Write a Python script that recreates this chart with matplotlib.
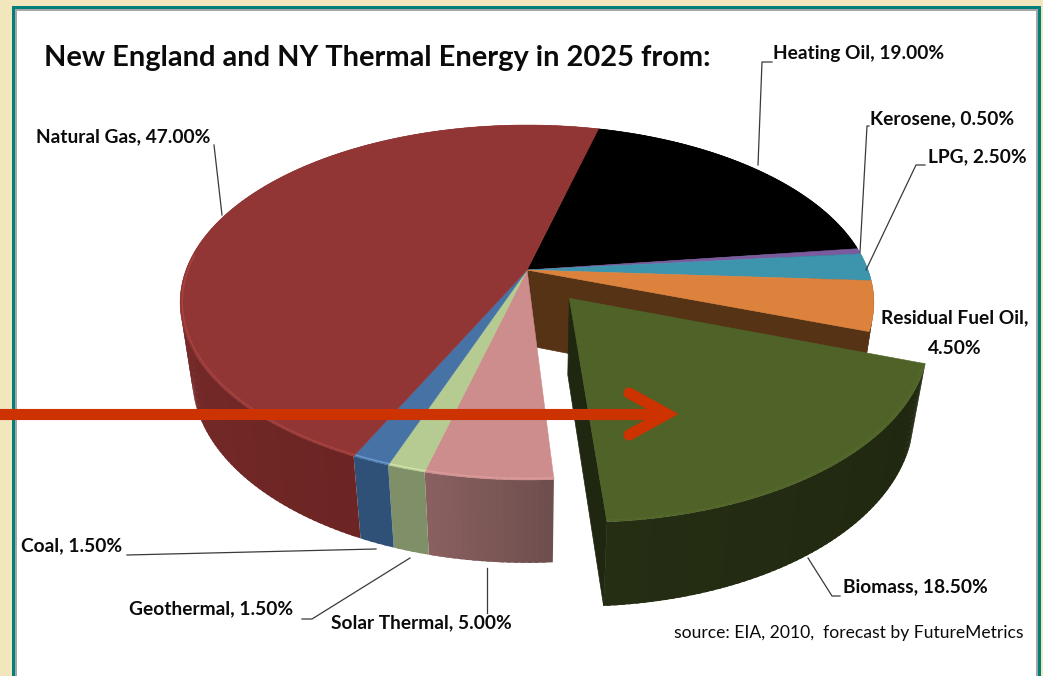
"""New England and NY thermal energy in 2025: perspective 3D pie, one slice pulled out."""

import matplotlib

matplotlib.use("Agg")
import matplotlib.pyplot as plt
import numpy as np
from matplotlib.collections import PolyCollection
from matplotlib.patches import Polygon, Rectangle

# clockwise from the back of the pie
names = ["Heating Oil", "Kerosene", "LPG", "Residual Fuel Oil", "Biomass",
         "Solar Thermal", "Geothermal", "Coal", "Natural Gas"]
values = [19.0, 0.5, 2.5, 4.5, 18.5, 5.0, 1.5, 1.5, 47.0]
top_colors = ["#000000", "#7A5C9E", "#3C94AD", "#DC823C", "#4F6228",
              "#CE8D8D", "#B5CB91", "#4672A6", "#923635"]
# side colours at the start and at the end of each slice's angle range
side_colors = [("#000000", "#000000"), ("#4a3860", "#4a3860"), ("#245a69", "#245a69"),
               ("#573316", "#573316"), ("#1f2710", "#252d13"), ("#6E4E4D", "#8A6060"),
               ("#7F8F68", "#7F8F68"), ("#2F5077", "#2F5077"), ("#6c2524", "#8a3533")]
rim_colors = [None, None, None, None, "#566a2d", "#DB9C9A", "#D3E4A8", "#6C9BD0", "#A8443F"]

title = "New England and NY Thermal Energy in 2025 from:"
source = "source: EIA, 2010,  forecast by FutureMetrics"

# pie geometry in pixels
CX, CY = 527, 270
A, B, K = 341, 171.5, 0.183  # radii and perspective strength
DEPTH, SHRINK = 78, 0.035
START = 14.3  # degrees clockwise from north
EXPLODE = 0.2
PULLED = "Biomass"


def project(u, v, bottom=False):
    u, v = np.asarray(u, float), np.asarray(v, float)
    w = 1 + K * v + (SHRINK if bottom else 0)
    return CX + A * u / w, CY + (-B * v + (DEPTH if bottom else 0)) / w


def rim(a0, a1, off=(0, 0), r=1.0, n=120):
    t = np.radians(np.linspace(a0, a1, n))
    return r * np.sin(t) + off[0], r * np.cos(t) + off[1]


def face(u, v, bottom=False):
    return np.column_stack(project(u, v, bottom))


def blend(c0, c1, f):
    c0, c1 = np.array(matplotlib.colors.to_rgb(c0)), np.array(matplotlib.colors.to_rgb(c1))
    return c0 + (c1 - c0) * f


def draw_side(ax, a0, a1, off, cols, z):
    # overlapping quads so the wall carries a gradient without seams
    edges = np.linspace(a0, a1, max(int(a1 - a0), 2) + 1)
    quads, fills = [], []
    for i in range(len(edges) - 1):
        stop = min(edges[i + 1] + 0.6, a1)
        u, v = rim(edges[i], stop, off, n=3)
        quads.append(np.vstack([face(u, v), face(u[::-1], v[::-1], True)]))
        fills.append(blend(cols[0], cols[1], (i + 0.5) / (len(edges) - 1)))
    ax.add_collection(PolyCollection(quads, facecolors=fills, edgecolors="none",
                                     linewidths=0, zorder=z))


fig = plt.figure(figsize=(10.43, 6.76), dpi=100, facecolor="#F2E7BC")
ax = fig.add_axes([0, 0, 1, 1])
ax.set_xlim(0, 1043)
ax.set_ylim(676, 0)
ax.axis("off")

# panel frame
ax.add_patch(Rectangle((12, 6), 1029, 680, fc="#00807A", ec="none", zorder=0))
ax.add_patch(Rectangle((15, 9), 1023, 680, fc="#A6A6A6", ec="none", zorder=0.1))
ax.add_patch(Rectangle((17, 11), 1019, 680, fc="white", ec="none", zorder=0.2))

angles = START + np.concatenate([[0], np.cumsum(values)]) * 3.6
idx = names.index("Residual Fuel Oil")

# slices still in the pie
for i, name in enumerate(names):
    if name == PULLED:
        continue
    draw_side(ax, angles[i], angles[i + 1], (0, 0), side_colors[i], 2)

# inner wall left open by the pulled slice
end = angles[idx + 1]
u, v = rim(end, end, n=1)
wall = np.vstack([face([0, u[0]], [0, v[0]]), face([u[0], 0], [v[0], 0], True)])
ax.add_patch(Polygon(wall, fc="#573316", ec="#573316", lw=0.5, zorder=2.5))

for i, name in enumerate(names):
    if name == PULLED:
        continue
    a0, a1 = angles[i], angles[i + 1]
    u, v = rim(a0, a1)
    pts = np.vstack([project(0, 0), face(u, v)])
    ax.add_patch(Polygon(pts, fc=top_colors[i], ec=top_colors[i], lw=0.4, zorder=3))
    if rim_colors[i]:
        u, v = rim(a0, min(a1, 275), r=0.994)
        ax.plot(*project(u, v), color=rim_colors[i], lw=1.0, zorder=3.5)

# the pulled slice
i = names.index(PULLED)
a0, a1 = angles[i], angles[i + 1]
mid = np.radians((a0 + a1) / 2)
off = (EXPLODE * np.sin(mid), EXPLODE * np.cos(mid))
u, v = rim(a1, a1, off, n=1)
inner = np.vstack([face([off[0], u[0]], [off[1], v[0]]), face([u[0], off[0]], [v[0], off[1]], True)])
ax.add_patch(Polygon(inner, fc="#1f2710", ec="#1f2710", lw=0.5, zorder=4))
draw_side(ax, a0, a1, off, side_colors[i], 4)
u, v = rim(a0, a1, off)
pts = np.vstack([project(off[0], off[1]), face(u, v)])
ax.add_patch(Polygon(pts, fc=top_colors[i], ec=top_colors[i], lw=0.4, zorder=5))
u, v = rim(a0, a1, off, r=0.994)
ax.plot(*project(u, v), color=rim_colors[i], lw=0.8, zorder=5.5)

# leader lines
leaders = [[(214, 145), (222, 215)],
           [(772, 62), (762, 62), (758, 165)],
           [(869, 126), (867, 126), (860, 252)],
           [(925, 165), (916, 165), (866, 270)],
           [(840, 596), (832, 596), (808, 558)],
           [(127, 555), (376, 549)],
           [(302, 619), (312, 619), (410, 558)],
           [(487, 568), (487, 613)]]
for line in leaders:
    xs, ys = zip(*line)
    ax.plot(xs, ys, color="#3a3a3a", lw=0.9, zorder=6)

# red arrow
arrow = "#CC3300"
ax.plot([-5, 665], [414, 414], color=arrow, lw=8, solid_capstyle="butt", zorder=7)
ax.plot([629, 667, 629], [393, 414, 435], color=arrow, lw=8, solid_capstyle="round",
        solid_joinstyle="miter", zorder=7)

# text
font = dict(family=["Lato", "DejaVu Sans"], color="#0b0b0b", va="center", zorder=8)
ax.text(44, 58, title, fontsize=20.9, fontweight="bold", ha="left", **font)
placed = {"Natural Gas": (36, 137), "Heating Oil": (773, 54), "Kerosene": (870, 119),
          "LPG": (928, 157), "Biomass": (843, 587), "Coal": (21, 546),
          "Geothermal": (129, 609), "Solar Thermal": (331, 623)}
for name, value in zip(names, values):
    if name in placed:
        ax.text(*placed[name], f"{name}, {value:.2f}%", fontsize=13.8, fontweight="bold",
                ha="left", **font)
resid = values[idx]
ax.text(955, 318, f"{names[idx]},", fontsize=13.8, fontweight="bold", ha="center", **font)
ax.text(955, 348, f"{resid:.2f}%", fontsize=13.8, fontweight="bold", ha="center", **font)
ax.text(674, 633, source, fontsize=12.6, fontweight="normal", ha="left", **font)

fig.savefig("out.png", dpi=100, facecolor=fig.get_facecolor())
